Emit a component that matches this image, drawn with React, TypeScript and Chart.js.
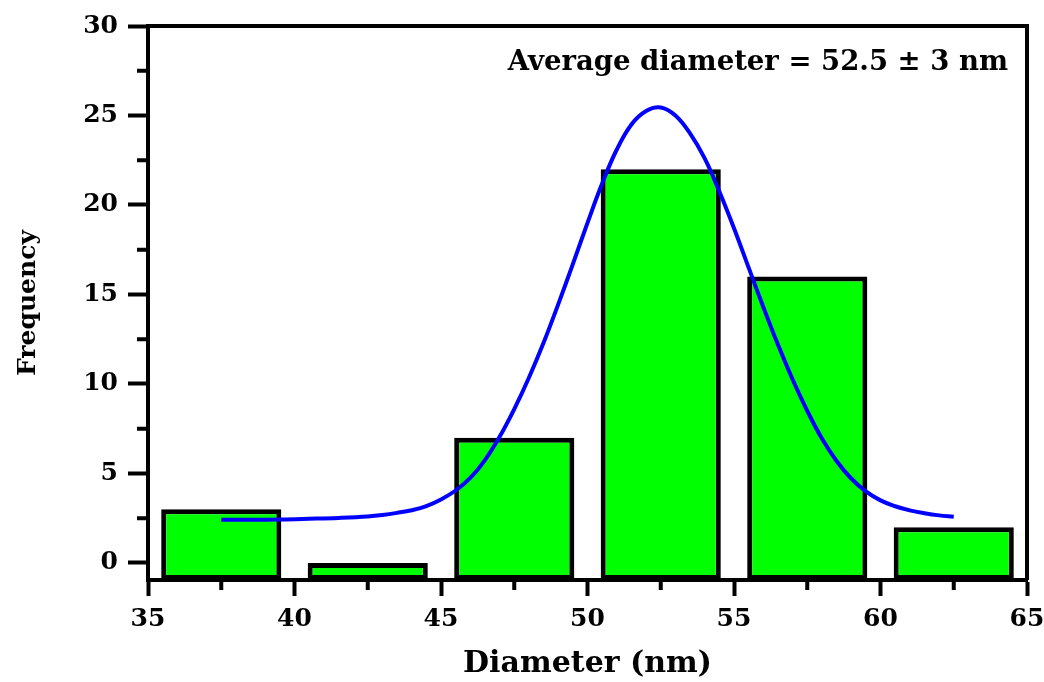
import React, { useEffect, useRef } from "react";
import { Chart, registerables } from "chart.js";

Chart.register(...registerables);

// Histogram bins (bin centers, nm) and counts
const binCenters = [37.5, 42.5, 47.5, 52.5, 57.5, 62.5];
const counts = [3, 0, 7, 22, 16, 2];

// Fitted distribution curve
const curveX = [37.5, 38.5, 39.5, 40.5, 41.5, 42.5, 43.0, 43.5, 44.0, 44.5, 45.0, 45.5, 46.0, 46.5, 47.0, 47.5, 48.0, 48.5, 49.0, 49.5, 50.0, 50.5, 51.0, 51.5, 52.0, 52.5, 53.0, 53.5, 54.0, 54.5, 55.0, 55.5, 56.0, 56.5, 57.0, 57.5, 58.0, 58.5, 59.0, 59.5, 60.0, 60.5, 61.0, 61.5, 62.0, 62.5];
const curveY = [2.42, 2.42, 2.43, 2.47, 2.52, 2.6, 2.68, 2.8, 2.95, 3.18, 3.55, 4.05, 4.75, 5.75, 7.05, 8.6, 10.35, 12.3, 14.45, 16.7, 19.0, 21.2, 23.1, 24.5, 25.25, 25.45, 25.0, 24.0, 22.6, 20.75, 18.7, 16.5, 14.3, 12.2, 10.25, 8.5, 6.95, 5.7, 4.72, 4.0, 3.5, 3.17, 2.94, 2.78, 2.66, 2.58];

// Axes
const xMin = 35;
const xMax = 65;
const xMajorTicks = [35, 40, 45, 50, 55, 60, 65];
const xMinorTicks = [37.5, 42.5, 47.5, 52.5, 57.5, 62.5];
const yMin = -0.95;
const yMax = 30;
const yMajorTicks = [0, 5, 10, 15, 20, 25, 30];
const yMinorTicks = [2.5, 7.5, 12.5, 17.5, 22.5, 27.5];

const xTitle = "Diameter (nm)";
const yTitle = "Frequency";
const annotation = "Average diameter = 52.5 \u00B1 3 nm";

const FONT = "'DejaVu Serif', 'Liberation Serif', serif";

const framePlugin = {
  id: "frameAndMinor",
  afterDraw(chart: any) {
    const { ctx, chartArea, scales } = chart;
    const { left, right, top, bottom } = chartArea;
    ctx.save();
    ctx.strokeStyle = "#000";
    ctx.lineWidth = 4;
    ctx.lineCap = "butt";
    // top and right frame
    ctx.beginPath();
    ctx.moveTo(left - 2, top);
    ctx.lineTo(right, top);
    ctx.moveTo(right, top - 2);
    ctx.lineTo(right, bottom);
    ctx.stroke();
    // minor ticks
    ctx.beginPath();
    xMinorTicks.forEach((v) => {
      const px = scales.x.getPixelForValue(v);
      ctx.moveTo(px, bottom);
      ctx.lineTo(px, bottom + 10);
    });
    yMinorTicks.forEach((v) => {
      const py = scales.y.getPixelForValue(v);
      ctx.moveTo(left, py);
      ctx.lineTo(left - 11, py);
    });
    ctx.stroke();
    // annotation
    ctx.fillStyle = "#000";
    ctx.font = `bold 27.5px ${FONT}`;
    ctx.textAlign = "right";
    ctx.textBaseline = "middle";
    ctx.fillText(annotation, right - 19, top + 37);
    ctx.restore();
  },
};

export default function App() {
  const ref = useRef<HTMLCanvasElement | null>(null);

  useEffect(() => {
    if (!ref.current) return;
    const chart = new Chart(ref.current, {
      type: "bar",
      data: {
        datasets: [
          {
            type: "line",
            data: curveX.map((x, i) => ({ x, y: curveY[i] })),
            borderColor: "#0000FF",
            borderWidth: 4,
            pointRadius: 0,
            tension: 0.4,
            fill: false,
            order: 0,
          } as any,
          {
            type: "bar",
            data: binCenters.map((x, i) => ({ x, y: counts[i] })),
            backgroundColor: "#00FF00",
            borderColor: "#000000",
            borderWidth: 5,
            borderSkipped: false,
            base: yMin,
            barPercentage: 0.82,
            categoryPercentage: 1,
            order: 1,
          } as any,
        ],
      },
      options: {
        responsive: false,
        animation: false,
        layout: { padding: { top: 26, right: 17, left: 0, bottom: 0 } },
        plugins: { legend: { display: false }, tooltip: { enabled: false } },
        scales: {
          x: {
            type: "linear",
            min: xMin,
            max: xMax,
            offset: false,
            afterBuildTicks: (scale: any) => {
              scale.ticks = xMajorTicks.map((v) => ({ value: v }));
            },
            afterFit: (scale: any) => {
              scale.height = 102;
              scale.paddingLeft = 0;
              scale.paddingRight = 0;
            },
            grid: {
              offset: false,
              drawOnChartArea: false,
              drawTicks: true,
              tickLength: 16,
              tickWidth: 4,
              tickColor: "#000",
            },
            border: { display: true, width: 4, color: "#000" },
            ticks: {
              color: "#000",
              font: { family: FONT, weight: "bold", size: 25 },
              padding: 8,
              maxRotation: 0,
              autoSkip: false,
            },
            title: {
              display: true,
              text: xTitle,
              color: "#000",
              font: { family: FONT, weight: "bold", size: 30 },
              padding: { top: 0, bottom: 0 },
            },
          },
          y: {
            type: "linear",
            min: yMin,
            max: yMax,
            afterBuildTicks: (scale: any) => {
              scale.ticks = yMajorTicks.map((v) => ({ value: v }));
            },
            afterFit: (scale: any) => {
              scale.width = 148;
              scale.paddingTop = 0;
              scale.paddingBottom = 0;
            },
            grid: {
              drawOnChartArea: false,
              drawTicks: true,
              tickLength: 20,
              tickWidth: 4,
              tickColor: "#000",
            },
            border: { display: true, width: 4, color: "#000" },
            ticks: {
              color: "#000",
              font: { family: FONT, weight: "bold", size: 25 },
              padding: 10,
              autoSkip: false,
            },
            title: {
              display: true,
              text: yTitle,
              color: "#000",
              font: { family: FONT, weight: "bold", size: 25 },
              padding: { top: 13, bottom: 0 },
            },
          },
        },
      },
      plugins: [framePlugin],
    } as any);
    return () => chart.destroy();
  }, []);

  return (
    <div style={{ position: "fixed", left: 0, top: 0, width: 1044, height: 682, background: "#fff" }}>
      <canvas ref={ref} width={1044} height={682} />
    </div>
  );
}
